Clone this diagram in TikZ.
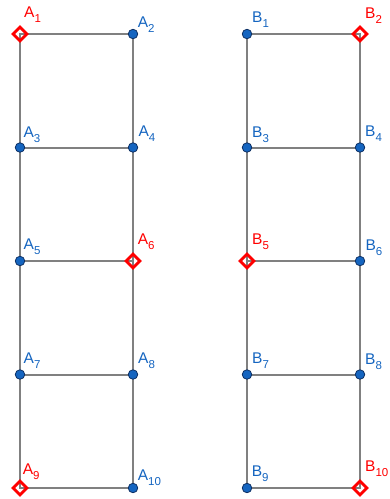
\documentclass[tikz,border=0pt]{standalone}
\usepackage{fontspec}
\setmainfont{Liberation Sans}
\usetikzlibrary{shapes.geometric}
\definecolor{ggblue}{RGB}{21,101,192}
\definecolor{ggdark}{RGB}{13,48,100}
\definecolor{ggred}{RGB}{255,0,0}
\definecolor{gggray}{RGB}{128,128,128}
% #1 point, #2 letter, #3 index, #4 colour, #5 dx, #6 baseline height above point
\newcommand{\ptlab}[6]{\node[lbl,text=#4] (l#1) at ([xshift=#5pt,yshift=#6pt+3pt]#1) {#2\raisebox{-5pt}{\fontsize{11.5}{11.5}\selectfont #3}};}
\begin{document}
\begin{tikzpicture}[x=1pt,y=-1pt,
  edge/.style={draw=gggray,line width=2pt},
  dotpt/.style={circle,fill=ggblue,draw=ggdark,line width=0.8pt,minimum size=9.5pt,inner sep=0pt},
  diapt/.style={diamond,draw=ggred,line width=2.8pt,minimum size=15pt,inner sep=0pt,aspect=1},
  lbl/.style={anchor=base west,inner sep=0pt,font=\fontsize{15.5}{15.5}\selectfont}]
\useasboundingbox (0,0) rectangle (390,499);
% coordinates
\foreach \i/\y in {1/34,3/147.5,5/261,7/374.5,9/488}{
  \coordinate (A\i) at (20,\y);
  \coordinate (B\i) at (247,\y);
}
\foreach \i/\y in {2/34,4/147.5,6/261,8/374.5,10/488}{
  \coordinate (A\i) at (133,\y);
  \coordinate (B\i) at (360,\y);
}
% edges
\foreach \P in {A,B}{
  \draw[edge] (\P1) -- (\P2) -- (\P4) -- (\P6) -- (\P8) -- (\P10) -- (\P9) -- (\P7) -- (\P5) -- (\P3) -- cycle;
  \draw[edge] (\P3) -- (\P4);
  \draw[edge] (\P5) -- (\P6);
  \draw[edge] (\P7) -- (\P8);
}
% markers
\foreach \n in {A2,A3,A4,A5,A7,A8,A10,B1,B3,B4,B6,B7,B8,B9}{
  \node[dotpt] (m\n) at (\n) {};
}
\foreach \n in {A1,A6,A9,B2,B5,B10}{
  \node[diapt] (m\n) at (\n) {};
}
% labels
\ptlab{A1}{A}{1}{ggred}{4}{14}
\ptlab{A2}{A}{2}{ggblue}{4.7}{4}
\ptlab{A3}{A}{3}{ggblue}{3.3}{7.5}
\ptlab{A4}{A}{4}{ggblue}{5.3}{8.4}
\ptlab{A5}{A}{5}{ggblue}{3.5}{8.5}
\ptlab{A6}{A}{6}{ggred}{4.7}{13.5}
\ptlab{A7}{A}{7}{ggblue}{3.5}{8.5}
\ptlab{A8}{A}{8}{ggblue}{5}{8.5}
\ptlab{A9}{A}{9}{ggred}{2.7}{10.5}
\ptlab{A10}{A}{10}{ggblue}{4.7}{5}
\ptlab{B1}{B}{1}{ggblue}{5}{8.3}
\ptlab{B2}{B}{2}{ggred}{5}{12.7}
\ptlab{B3}{B}{3}{ggblue}{5}{7.5}
\ptlab{B4}{B}{4}{ggblue}{5}{8.5}
\ptlab{B5}{B}{5}{ggred}{5}{14}
\ptlab{B6}{B}{6}{ggblue}{5.3}{7.4}
\ptlab{B7}{B}{7}{ggblue}{5}{8.5}
\ptlab{B8}{B}{8}{ggblue}{5}{7.5}
\ptlab{B9}{B}{9}{ggblue}{4.7}{8.3}
\ptlab{B10}{B}{10}{ggred}{5}{13.3}
\end{tikzpicture}
\end{document}
